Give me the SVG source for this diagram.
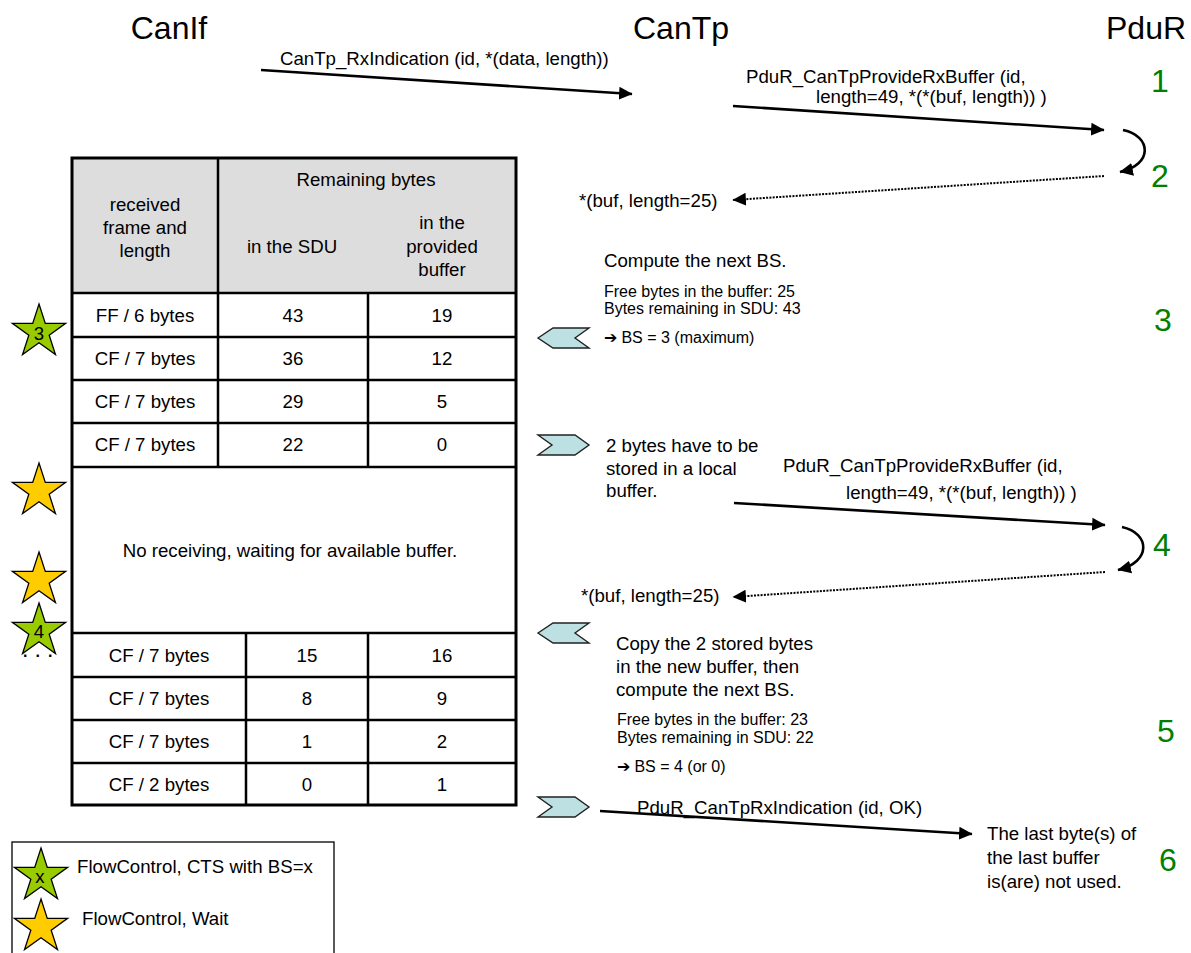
<svg xmlns="http://www.w3.org/2000/svg" width="1191" height="953" viewBox="0 0 1191 953">
  <style>
    text { font-family: "Liberation Sans", Arial, sans-serif; fill: #000; }
    .title { font-size: 32px; }
    .t14 { font-size: 18.67px; }
    .t12 { font-size: 16px; }
    .mid { text-anchor: middle; }
    .step { font-size: 32px; fill: #008000; text-anchor: middle; }
    .cell { fill: #ffffff; stroke: none; }
    .head { fill: #dddddd; stroke: none; }
    .grid { stroke: #000; stroke-width: 2.5; fill: none; }
    .frame { stroke: #000; stroke-width: 3; fill: none; }
    .star { stroke: #000; stroke-width: 1.3; stroke-linejoin: miter; }
    .cts { fill: #99cc00; }
    .wait { fill: #ffcc00; }
    .chevron { fill: #bde0e2; stroke: #222; stroke-width: 1.4; }
    .call { stroke: #000; stroke-width: 2.6; fill: none; marker-end: url(#head); }
    .ret { stroke: #000; stroke-width: 2; stroke-dasharray: 2 1.3; fill: none; marker-end: url(#head); }
    .loop { stroke: #000; stroke-width: 2.6; fill: none; marker-end: url(#head); }
  </style>
  <defs>
    <marker id="head" markerUnits="userSpaceOnUse" markerWidth="14" markerHeight="14" viewBox="0 0 13 13" refX="12" refY="6.5" orient="auto">
      <path d="M0,0.5 L12.5,6.5 L0,12.5 z" fill="#000"/>
    </marker>
    <!-- regular five-pointed star, outer radius 28 -->
    <polygon id="star5" points="0,-28 6.29,-8.66 26.63,-8.65 10.18,3.31 16.46,22.65 0,10.7 -16.46,22.65 -10.18,3.31 -26.63,-8.65 -6.29,-8.66"/>
    <polygon id="chev-left" points="0,10 15,0 51,0 37,10 51,20 15,20"/>
    <polygon id="chev-right" points="0,0 37,0 51,10 37,20 0,20 14,10"/>
  </defs>

  <!-- layer titles -->
  <g id="lane-canif"><text class="title mid" x="169" y="39">CanIf</text></g>
  <g id="lane-cantp"><text class="title mid" x="681" y="39">CanTp</text></g>
  <g id="lane-pdur"><text class="title" x="1106" y="39">PduR</text></g>

  <!-- step numbers -->
  <g id="steps">
    <text class="step" x="1160" y="92">1</text>
    <text class="step" x="1160" y="187">2</text>
    <text class="step" x="1163" y="331">3</text>
    <text class="step" x="1162" y="556">4</text>
    <text class="step" x="1166" y="742">5</text>
    <text class="step" x="1168" y="871">6</text>
  </g>

  <!-- reception table -->
  <g id="rx-table">
    <rect class="cell" x="72" y="158" width="444" height="647"/>
    <rect class="head" x="72" y="158" width="444" height="135"/>
    <path class="grid" d="M72,293H516 M72,337H516 M72,380H516 M72,423H516 M72,467H516 M72,633H516 M72,677H516 M72,720H516 M72,763H516
                          M218,158V467 M368,293V467 M246,633V805 M368,633V805"/>
    <rect class="frame" x="72" y="158" width="444" height="647"/>

    <text class="t14 mid" x="366" y="186">Remaining bytes</text>
    <text class="t14 mid" x="145" y="211">received</text>
    <text class="t14 mid" x="145" y="234">frame and</text>
    <text class="t14 mid" x="145" y="257">length</text>
    <text class="t14 mid" x="292" y="253">in the SDU</text>
    <text class="t14 mid" x="442" y="229">in the</text>
    <text class="t14 mid" x="442" y="253">provided</text>
    <text class="t14 mid" x="442" y="276">buffer</text>

    <text class="t14 mid" x="145" y="322">FF / 6 bytes</text>
    <text class="t14 mid" x="293" y="322">43</text>
    <text class="t14 mid" x="442" y="322">19</text>
    <text class="t14 mid" x="145" y="365">CF / 7 bytes</text>
    <text class="t14 mid" x="293" y="365">36</text>
    <text class="t14 mid" x="442" y="365">12</text>
    <text class="t14 mid" x="145" y="408">CF / 7 bytes</text>
    <text class="t14 mid" x="293" y="408">29</text>
    <text class="t14 mid" x="442" y="408">5</text>
    <text class="t14 mid" x="145" y="451">CF / 7 bytes</text>
    <text class="t14 mid" x="293" y="451">22</text>
    <text class="t14 mid" x="442" y="451">0</text>

    <text class="t14 mid" x="290" y="557">No receiving, waiting for available buffer.</text>

    <text class="t14 mid" x="159" y="662">CF / 7 bytes</text>
    <text class="t14 mid" x="307" y="662">15</text>
    <text class="t14 mid" x="442" y="662">16</text>
    <text class="t14 mid" x="159" y="705">CF / 7 bytes</text>
    <text class="t14 mid" x="307" y="705">8</text>
    <text class="t14 mid" x="442" y="705">9</text>
    <text class="t14 mid" x="159" y="748">CF / 7 bytes</text>
    <text class="t14 mid" x="307" y="748">1</text>
    <text class="t14 mid" x="442" y="748">2</text>
    <text class="t14 mid" x="159" y="791">CF / 2 bytes</text>
    <text class="t14 mid" x="307" y="791">0</text>
    <text class="t14 mid" x="442" y="791">1</text>
  </g>

  <!-- flow control markers beside the table -->
  <g id="fc-markers">
    <use href="#star5" class="star cts" x="39" y="332"/>
    <text class="t14 mid" x="39" y="340">3</text>
    <use href="#star5" class="star wait" x="39" y="491"/>
    <use href="#star5" class="star wait" x="39" y="580"/>
    <text x="23" y="657" style="font-size:16px;font-weight:bold;letter-spacing:8px">...</text>
    <use href="#star5" class="star cts" x="39" y="631"/>
    <text class="t14 mid" x="39" y="638">4</text>
  </g>

  <!-- state chevrons -->
  <g id="chevrons">
    <use href="#chev-left" class="chevron" x="538" y="328"/>
    <use href="#chev-right" class="chevron" x="538" y="435"/>
    <use href="#chev-left" class="chevron" x="538" y="623"/>
    <use href="#chev-right" class="chevron" x="538" y="797"/>
  </g>

  <!-- calls and returns -->
  <g id="connectors">
    <path class="call" d="M261,70 L632,94"/>
    <path class="call" d="M733,106 L1104,130"/>
    <path class="loop" d="M1123,130 C1152,136 1153,165 1120,172"/>
    <path class="ret" d="M1104,176 L733,200"/>
    <path class="call" d="M734,503 L1105,525"/>
    <path class="loop" d="M1122,527 C1150,533 1152,562 1118,570"/>
    <path class="ret" d="M1105,572 L733,597"/>
    <path class="call" d="M600,811 L972,834"/>
  </g>

  <!-- labels -->
  <g id="labels">
    <text class="t14" x="280" y="65">CanTp_RxIndication (id, *(data, length))</text>
    <text class="t14" x="746" y="83">PduR_CanTpProvideRxBuffer (id,</text>
    <text class="t14" x="816" y="103">length=49, *(*(buf, length)) )</text>
    <text class="t14" x="579" y="207">*(buf, length=25)</text>

    <text class="t14" x="604" y="267">Compute the next BS.</text>
    <text class="t12" x="604" y="297">Free bytes in the buffer: 25</text>
    <text class="t12" x="604" y="314">Bytes remaining in SDU: 43</text>
    <text class="t12" x="604" y="343">➔ BS = 3 (maximum)</text>

    <text class="t14" x="606" y="452">2 bytes have to be</text>
    <text class="t14" x="606" y="475">stored in a local</text>
    <text class="t14" x="606" y="497">buffer.</text>
    <text class="t14" x="783" y="472">PduR_CanTpProvideRxBuffer (id,</text>
    <text class="t14" x="846" y="499">length=49, *(*(buf, length)) )</text>
    <text class="t14" x="581" y="602">*(buf, length=25)</text>

    <text class="t14" x="616" y="650">Copy the 2 stored bytes</text>
    <text class="t14" x="616" y="673">in the new buffer, then</text>
    <text class="t14" x="616" y="696">compute the next BS.</text>
    <text class="t12" x="617" y="725">Free bytes in the buffer: 23</text>
    <text class="t12" x="617" y="743">Bytes remaining in SDU: 22</text>
    <text class="t12" x="617" y="772">➔ BS = 4 (or 0)</text>

    <text class="t14" x="637" y="814">PduR_CanTpRxIndication (id, OK)</text>
    <text class="t14" x="987" y="840">The last byte(s) of</text>
    <text class="t14" x="987" y="864">the last buffer</text>
    <text class="t14" x="987" y="888">is(are) not used.</text>
  </g>

  <!-- legend -->
  <g id="legend">
    <rect x="12" y="842" width="322" height="130" fill="#fff" stroke="#000" stroke-width="1.3"/>
    <use href="#star5" class="star cts" x="41" y="876"/>
    <text class="t14 mid" x="40" y="883">x</text>
    <text class="t14" x="77" y="873">FlowControl, CTS with BS=x</text>
    <use href="#star5" class="star wait" x="41" y="927"/>
    <text class="t14" x="82" y="925">FlowControl, Wait</text>
  </g>
</svg>
